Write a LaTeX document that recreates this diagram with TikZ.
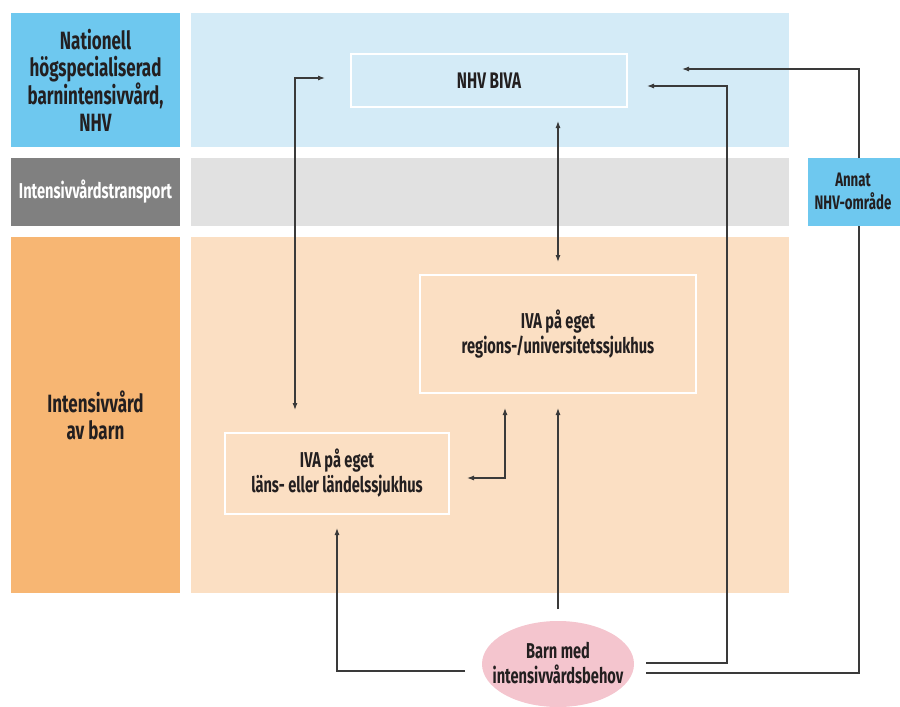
\documentclass[tikz,border=0pt]{standalone}
\usepackage{fontspec}
\setmainfont{Fira Sans}[FakeStretch=0.68]
\usetikzlibrary{shapes.geometric,arrows.meta}
\definecolor{nhvblue}{HTML}{6EC8EF}
\definecolor{nhvlight}{HTML}{D4EBF7}
\definecolor{trdark}{HTML}{808080}
\definecolor{trlight}{HTML}{E1E1E1}
\definecolor{ivaorange}{HTML}{F7B673}
\definecolor{ivalight}{HTML}{FBDFC3}
\definecolor{barnpink}{HTML}{F4C5CE}
\definecolor{txt}{HTML}{231F20}
\definecolor{arr}{HTML}{3A3A3A}
\begin{document}
\begin{tikzpicture}[x=1pt,y=-1pt,
  zone/.style={draw=none, inner sep=0pt, outer sep=0pt, align=center, text=txt, font=\bfseries\fontsize{25}{27}\selectfont},
  whitebox/.style={draw=white, line width=2pt, inner sep=0pt, outer sep=0pt, align=center, text=txt, font=\bfseries\fontsize{21.5}{25}\selectfont},
  conn/.style={draw=arr, line width=1.1pt, arrows={-Latex[length=7pt,width=5pt]}},
  biconn/.style={draw=arr, line width=1.1pt, arrows={Latex[length=7pt,width=5pt]-Latex[length=7pt,width=5pt]}},
  plain/.style={draw=arr, line width=1.1pt}]
\useasboundingbox (0,0) rectangle (900,707);
\clip (0,0) rectangle (900,707);
% left labels
\node[zone, fill=nhvblue, minimum width=169pt, minimum height=134pt] (nhv) at (95.5,80) {Nationell\\högspecialiserad\\barnintensivvård,\\NHV};
\node[zone, fill=trdark, text=white, minimum width=169pt, minimum height=68pt, font=\bfseries\fontsize{21.5}{23}\selectfont] (trp) at (95.5,192) {Intensivvårdstransport};
\node[zone, fill=ivaorange, minimum width=169pt, minimum height=356pt] (iva) at (95.5,415) {Intensivvård\\av barn};
% bands
\node[zone, fill=nhvlight, minimum width=598pt, minimum height=134pt] (nhvband) at (490,80) {};
\node[zone, fill=trlight, minimum width=598pt, minimum height=68pt] (trpband) at (490,192) {};
\node[zone, fill=ivalight, minimum width=598pt, minimum height=356pt] (ivaband) at (490,415) {};
% boxes
\node[whitebox, minimum width=276pt, minimum height=53pt, font=\bfseries\fontsize{22.5}{24}\selectfont] (biva) at (489,80.5) {NHV BIVA};
\node[whitebox, minimum width=276pt, minimum height=118pt] (reg) at (558,334) {IVA på eget\\regions-/universitetssjukhus};
\node[whitebox, minimum width=224pt, minimum height=81pt] (lans) at (337,473.5) {IVA på eget\\läns- eller ländelssjukhus};
\node[zone, fill=nhvblue, minimum width=106pt, minimum height=68pt] (annat) at (861,192) {};
\node[zone, font=\bfseries\fontsize{19.5}{23}\selectfont] (annattxt) at (853,191) {Annat\\NHV-område};
\node[ellipse, fill=barnpink, draw=none, minimum width=152pt, minimum height=86pt, inner sep=0pt] (barn) at (558,664) {};
\node[zone, font=\bfseries\fontsize{21.5}{25}\selectfont] (barntxt) at (558,663) {Barn med\\intensivvårdsbehov};
% connector end points
\coordinate (lansTop) at (295,410);
\coordinate (bivaLeft) at (325,78);
\coordinate (bivaBot) at (558,121);
\coordinate (regTop) at (558,262);
\coordinate (lansRight) at (467,478);
\coordinate (regBotL) at (505,408);
\coordinate (regBotR) at (558,408);
\coordinate (barnTop) at (558,609);
\coordinate (barnLeft) at (465,671);
\coordinate (lansBot) at (337,528);
\coordinate (barnR1) at (646,663);
\coordinate (barnR2) at (646,673);
\coordinate (bivaR1) at (647,86);
\coordinate (bivaR2) at (682,69);
\coordinate (cornerR1) at (727,86);
\coordinate (annatBot) at (859,226);
\coordinate (annatTop) at (859,158);
% connectors
\draw[biconn] (lansTop) |- (bivaLeft);
\draw[biconn] (bivaBot) -- (regTop);
\draw[biconn] (lansRight) -| (regBotL);
\draw[conn] (barnTop) -- (regBotR);
\draw[conn] (barnLeft) -| (lansBot);
\draw[conn] (barnR1) -| (cornerR1) -- (bivaR1);
\draw[plain] (barnR2) -| (annatBot);
\draw[conn] (annatTop) |- (bivaR2);
\end{tikzpicture}
\end{document}
